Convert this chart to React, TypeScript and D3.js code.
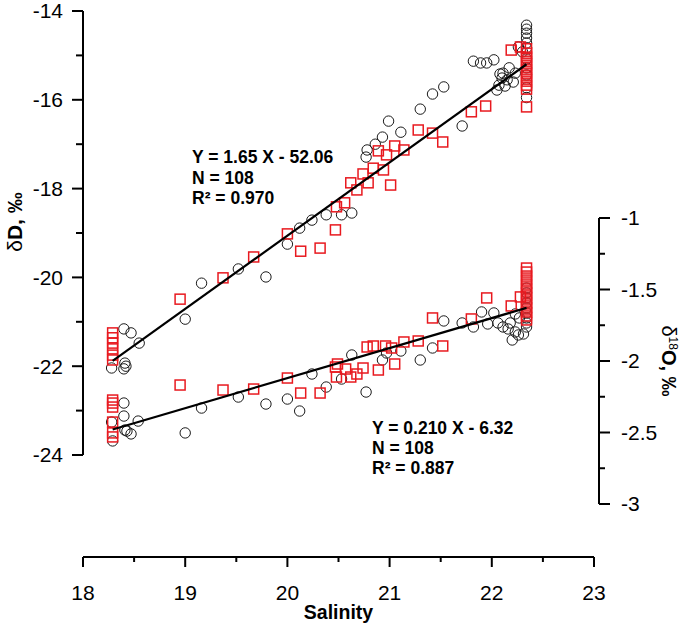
import React from "react";
import * as d3 from "d3";

// Salinity / δD — circles (black)
const dCircS = [18.40, 18.47, 18.55, 18.41, 18.42, 18.40, 18.28, 19.00, 19.16, 19.52, 19.79, 20.00, 20.12, 20.24, 20.38, 20.53, 20.63, 20.77, 20.78, 20.86, 20.93, 20.99, 21.11, 21.30, 21.42, 21.53, 21.71, 21.82, 21.89, 21.95, 22.02, 22.08, 22.05, 22.11, 22.10, 22.15, 22.21, 22.07, 22.13, 22.17, 22.23, 22.26, 22.30, 22.34, 22.34, 22.34, 22.34, 22.34, 22.34, 22.34, 22.34, 22.34, 22.34, 22.34];
const dCircV = [-21.16, -21.25, -21.48, -21.93, -22.00, -22.06, -22.04, -20.94, -20.13, -19.81, -19.99, -19.25, -18.89, -18.71, -18.59, -18.59, -18.55, -17.29, -17.13, -17.00, -16.84, -16.48, -16.73, -16.21, -15.87, -15.71, -16.59, -15.13, -15.17, -15.17, -15.10, -15.42, -15.78, -15.40, -15.51, -15.55, -15.60, -15.67, -15.69, -15.28, -15.40, -14.81, -14.92, -14.32, -14.41, -14.50, -14.61, -14.72, -14.83, -15.08, -15.28, -15.44, -15.73, -15.95];

// Salinity / δD — squares (red)
const dSqS = [18.29, 18.29, 18.29, 18.29, 18.29, 18.29, 18.95, 19.37, 19.67, 20.00, 20.13, 20.32, 20.47, 20.48, 20.56, 20.62, 20.68, 20.74, 20.79, 20.84, 20.94, 20.89, 20.97, 21.01, 21.05, 21.14, 21.28, 21.42, 21.52, 21.80, 21.94, 22.19, 22.28, 22.34, 22.34, 22.34, 22.34, 22.34, 22.34, 22.34, 22.34, 22.34, 22.34, 22.34, 22.34];
const dSqV = [-21.25, -21.36, -21.48, -21.61, -21.75, -21.86, -20.49, -20.01, -19.54, -19.02, -19.41, -19.34, -18.93, -18.41, -18.32, -17.87, -18.03, -17.67, -17.87, -17.54, -17.58, -17.15, -17.24, -17.92, -17.04, -17.13, -16.68, -16.75, -16.95, -16.27, -16.14, -14.88, -14.81, -14.85, -14.95, -15.04, -15.13, -15.22, -15.31, -15.40, -15.49, -15.58, -15.67, -15.76, -16.16];

// Salinity / δ18O — circles (black)
const oCircS = [18.40, 18.40, 18.54, 18.28, 18.41, 18.43, 18.47, 18.29, 19.00, 19.16, 19.52, 19.79, 20.00, 20.12, 20.24, 20.38, 20.53, 20.63, 20.77, 20.93, 20.97, 21.11, 21.30, 21.42, 21.53, 21.71, 21.82, 21.90, 21.96, 22.02, 22.06, 22.11, 22.16, 22.18, 22.20, 22.23, 22.26, 22.31, 22.27, 22.23, 22.34, 22.34, 22.34, 22.34, 22.34, 22.34, 22.34, 22.34, 22.34];
const oCircV = [-2.294, -2.385, -2.420, -2.427, -2.483, -2.490, -2.510, -2.559, -2.503, -2.329, -2.252, -2.301, -2.266, -2.350, -2.091, -2.182, -2.126, -1.958, -2.217, -1.993, -1.944, -1.930, -1.993, -1.909, -1.720, -1.734, -1.762, -1.657, -1.741, -1.664, -1.734, -1.762, -1.776, -1.734, -1.853, -1.797, -1.818, -1.811, -1.699, -1.671, -1.490, -1.524, -1.559, -1.594, -1.629, -1.664, -1.699, -1.734, -1.762];

// Salinity / δ18O — squares (red)
const oSqS = [18.29, 18.29, 18.29, 18.29, 18.29, 18.29, 18.95, 19.37, 19.67, 20.00, 20.13, 20.32, 20.47, 20.48, 20.49, 20.57, 20.62, 20.68, 20.74, 20.78, 20.84, 20.89, 20.96, 21.02, 21.05, 21.14, 21.28, 21.42, 21.52, 21.80, 21.95, 22.19, 22.28, 22.34, 22.34, 22.34, 22.34, 22.34, 22.34, 22.34, 22.34, 22.34, 22.34, 22.34, 22.34, 22.34, 22.34];
const oSqV = [-2.273, -2.294, -2.322, -2.427, -2.503, -2.531, -2.168, -2.203, -2.196, -2.119, -2.224, -2.224, -2.042, -2.112, -2.021, -2.056, -2.112, -2.091, -2.049, -1.902, -1.895, -2.063, -1.895, -1.909, -2.021, -1.867, -1.860, -1.699, -1.895, -1.706, -1.559, -1.615, -1.552, -1.350, -1.378, -1.406, -1.434, -1.462, -1.490, -1.517, -1.545, -1.573, -1.601, -1.629, -1.657, -1.685, -1.713];

// Regression fits
const fitD = { slope: 1.65, intercept: -52.06, x0: 18.29, x1: 22.34 };
const fitO = { slope: 0.21, intercept: -6.32, x0: 18.29, x1: 22.34 };

const xTicks = [18, 19, 20, 21, 22, 23];
const dTicks = [-24, -22, -20, -18, -16, -14];
const oTicks = [-3, -2.5, -2, -1.5, -1];

const RED = "#e8191f";
const FONT = "Liberation Sans, Arial, sans-serif";

export default function App() {
  const x = d3.scaleLinear().domain([18, 23]).range([83, 594]);
  const yD = d3.scaleLinear().domain([-24, -14]).range([455, 11]);
  const yO = d3.scaleLinear().domain([-3, -1]).range([504, 218]);

  const line = (fit: typeof fitD, y: d3.ScaleLinear<number, number>) =>
    d3.line<number>().x((s) => x(s)).y((s) => y(fit.slope * s + fit.intercept))([fit.x0, fit.x1]) || "";

  const xMinor = d3.range(18, 23.01, 0.5);
  const dMinor = d3.range(-24, -13.99, 1);
  const oMinor = d3.range(-3, -0.99, 0.25);

  const circles = (S: number[], V: number[], y: d3.ScaleLinear<number, number>, k: string) =>
    S.map((s, i) => (
      <circle key={k + i} cx={x(s)} cy={y(V[i])} r={5.2} fill="none" stroke="#1a1a1a" strokeWidth={1} />
    ));
  const squares = (S: number[], V: number[], y: d3.ScaleLinear<number, number>, k: string) =>
    S.map((s, i) => (
      <rect key={k + i} x={x(s) - 5} y={y(V[i]) - 5} width={10} height={10} fill="none" stroke={RED} strokeWidth={1.5} />
    ));

  return (
    <svg width={685} height={627} style={{ position: "absolute", left: 0, top: 0, background: "#fff" }} fontFamily={FONT}>
      {/* left axis */}
      <g stroke="#000" strokeWidth={2}>
        <line x1={83} x2={83} y1={yD(-24)} y2={yD(-14)} />
        {dMinor.map((v) => {
          const major = Math.abs(v % 2) < 1e-6;
          return <line key={"dm" + v} x1={83} x2={major ? 72 : 76} y1={yD(v)} y2={yD(v)} />;
        })}
        {/* bottom axis */}
        <line x1={x(18)} x2={x(23)} y1={557} y2={557} />
        {xMinor.map((v) => {
          const major = Math.abs(v - Math.round(v)) < 1e-6;
          return <line key={"xm" + v} x1={x(v)} x2={x(v)} y1={557} y2={major ? 567 : 562} />;
        })}
        {/* right axis */}
        <line x1={599} x2={599} y1={yO(-3)} y2={yO(-1)} />
        {oMinor.map((v) => {
          const major = Math.abs(v * 2 - Math.round(v * 2)) < 1e-6;
          return <line key={"om" + v} x1={599} x2={major ? 610 : 605} y1={yO(v)} y2={yO(v)} />;
        })}
      </g>
      <g fontSize={21} fill="#000">
        {dTicks.map((v) => (
          <text key={"dt" + v} x={63} y={yD(v)} dy="0.35em" textAnchor="end">{v}</text>
        ))}
        {xTicks.map((v) => (
          <text key={"xt" + v} x={x(v)} y={600} textAnchor="middle">{v}</text>
        ))}
        {oTicks.map((v) => (
          <text key={"ot" + v} x={621} y={yO(v)} dy="0.35em" textAnchor="start">{v}</text>
        ))}
      </g>
      {/* axis titles */}
      <text x={x(20.5)} y={619} textAnchor="middle" fontSize={19.5} fontWeight="bold">Salinity</text>
      <text transform={`translate(22,${222}) rotate(-90)`} textAnchor="middle" fontSize={21}>
        <tspan>δ</tspan><tspan fontWeight="bold">D, ‰</tspan>
      </text>
      <text transform={`translate(662,${361}) rotate(90)`} textAnchor="middle" fontSize={20}>
        <tspan>δ</tspan><tspan fontSize={12} dy={-7}>18</tspan><tspan dy={7} fontWeight="bold">O, ‰</tspan>
      </text>

      {/* markers */}
      {circles(dCircS, dCircV, yD, "dc")}
      {circles(oCircS, oCircV, yO, "oc")}
      {squares(dSqS, dSqV, yD, "ds")}
      {squares(oSqS, oSqV, yO, "os")}

      {/* regression lines */}
      <path d={line(fitD, yD)} stroke="#000" strokeWidth={2.2} fill="none" />
      <path d={line(fitO, yO)} stroke="#000" strokeWidth={2.2} fill="none" />

      {/* equations */}
      <g fontSize={17.5} fontWeight="bold">
        <text x={192} y={163}>Y = 1.65 X - 52.06</text>
        <text x={192} y={184}>N = 108</text>
        <text x={192} y={204}>R² = 0.970</text>
        <text x={372} y={434}>Y = 0.210 X - 6.32</text>
        <text x={372} y={454}>N = 108</text>
        <text x={372} y={474}>R² = 0.887</text>
      </g>
    </svg>
  );
}
